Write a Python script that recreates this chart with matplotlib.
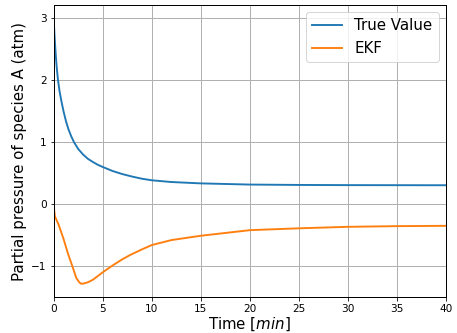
import numpy as np
import matplotlib
matplotlib.use("Agg")
import matplotlib.pyplot as plt

# valores
t_true = [0, 0.05, 0.1, 0.2, 0.3, 0.44, 0.6, 0.8, 1.0, 1.25, 1.5, 1.8, 2.07, 2.5, 3, 3.5, 4, 4.5, 5, 6, 7, 8, 9, 10, 12, 15, 20, 25, 30, 35, 40]
p_true = [3.0, 2.83, 2.68, 2.43, 2.22, 2.0, 1.82, 1.65, 1.5, 1.34, 1.21, 1.09, 1.0, 0.89, 0.8, 0.73, 0.68, 0.635, 0.6, 0.535, 0.485, 0.445, 0.41, 0.385, 0.357, 0.335, 0.316, 0.31, 0.307, 0.306, 0.305]

t_ekf = [0, 0.05, 0.13, 0.5, 0.98, 1.5, 1.9, 2.3, 2.6, 2.8, 3.1, 3.5, 4, 5, 6, 7, 7.8, 9, 10, 12, 15, 20, 25, 30, 35, 40]
p_ekf = [0.1, -0.1, -0.2, -0.33, -0.55, -0.82, -1.0, -1.19, -1.26, -1.285, -1.28, -1.26, -1.22, -1.1, -0.99, -0.89, -0.82, -0.73, -0.66, -0.58, -0.51, -0.42, -0.39, -0.366, -0.355, -0.35]

plt.rcParams.update({
    "xtick.labelsize": 10.5,
    "ytick.labelsize": 10.5,
    "lines.linewidth": 1.9,
    "grid.linewidth": 1.0,
    "axes.linewidth": 1.0,
})

fig = plt.figure(figsize=(457/72, 333/72), dpi=72)
ax = fig.add_axes([0.1175, 0.108, 0.8585, 0.877])
ax.plot(t_true, p_true, label="True Value")
ax.plot(t_ekf, p_ekf, label="EKF")
ax.set_xlim(0, 40)
ax.set_xlabel("Time [$min$]", fontsize=15, labelpad=2)
ax.set_ylabel("Partial pressure of species A (atm)", fontsize=15)
ax.grid(True)
ax.legend(loc="upper right", fontsize=15)
fig.savefig("out.png", dpi=72)
